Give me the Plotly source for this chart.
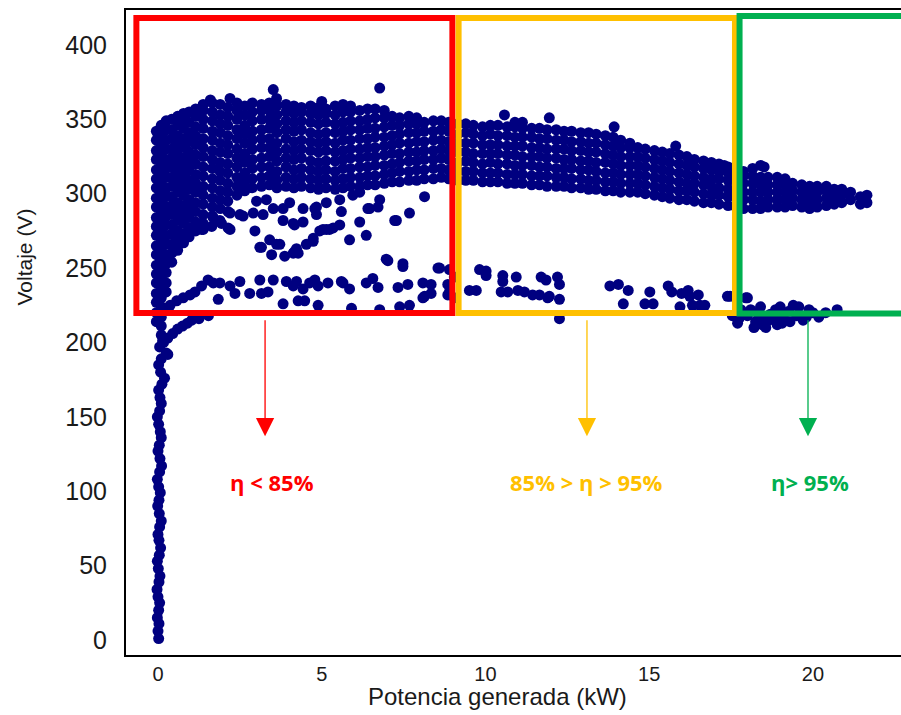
import plotly.graph_objects as go

# ---------------- data ----------------
# vertical spine near 0 kW (x kW, y V)
spine = [(0.02,1),(0.0,6),(0.03,11),(-0.02,15),(0.02,20),(0.05,25),(0.0,29),(-0.03,34),(0.03,39),
         (0.06,43),(0.01,48),(-0.02,53),(0.04,57),(0.08,62),(0.03,67),(0.0,71),(0.05,76),(0.1,80),
         (0.04,85),(-0.01,90),(0.03,94),(0.07,99),(0.02,103),(-0.02,108),(0.05,113),(0.11,117),
         (0.06,122),(0.0,127),(0.04,131),(0.1,136),(0.07,140),(0.02,145),(-0.02,150),(0.05,154),
         (0.1,159),(0.06,163),(0.02,168),(0.12,172),(0.2,176),(0.08,180),(0.02,185),(0.1,189),
         (0.25,193),(0.05,197),(0.14,201)]

# upper dense band, low power part: (x, [voltages])
band_low = [
    (-0.05, [214,220,227,233,240,246,252,259,265,272,278,284,291,297,304,310,316,323,329,336,342]),
    (0.1, [205,211,217,224,230,237,243,249,256,262,269,275,281,288,294,301,307,313,320,326,333,339,346]),
    (0.25, [234,240,247,253,259,266,272,279,285,291,298,304,311,317,323,330,336,343,349]),
    (0.42, [254,260,266,273,279,286,292,298,305,311,318,324,330,337,343,350]),
    (0.6, [262,269,275,282,288,294,301,307,314,320,326,333,339,346,352]),
    (0.78, [267,273,280,286,292,299,305,312,318,324,331,337,344,350,354]),
    (0.95, [271,277,284,290,296,303,309,316,322,328,335,341,348,355]),
    (1.15, [275,281,288,294,301,307,313,320,326,333,339,345,352,357]),
    (1.38, [280,286,293,299,305,312,318,325,331,337,344,350,356,360]),
    (1.66, [285,291,297,304,310,317,323,329,336,342,349,355,361]),
    (1.9, [290,296,302,309,315,321,328,334,341,347,353,360]),
    (2.13, [295,301,307,314,320,327,333,339,346,352,358]),
    (2.41, [299,305,311,318,324,330,337,343,350,356,361]),
    (2.65, [302,308,314,321,327,334,340,346,353,359]),
    (2.88, [304,310,317,323,330,336,342,349,355,361]),
    (3.16, [305,311,318,324,331,337,343,350,356,360]),
    (3.4, [306,312,318,325,331,337,344,350,356,361]),
    (3.63, [304,309,315,322,328,334,341,347,353,359]),
    (3.91, [305,311,318,324,330,337,343,349,355,360]),
    (4.15, [304,310,316,323,329,335,342,348,354,359]),
    (4.38, [305,311,317,324,330,336,343,349,355,358]),
]

band_mid = [
    (4.66, [304,310,316,322,329,335,341,348,354,359]),
    (4.9, [303,309,315,321,328,334,340,347,353,358]),
    (5.13, [304,310,316,322,329,335,341,348,354,357]),
    (5.41, [303,309,315,322,328,334,341,347,353,359]),
    (5.65, [304,310,317,323,329,336,342,348,355,360]),
    (5.88, [305,311,317,324,330,336,343,349,355,359]),
    (6.16, [305,311,318,324,330,337,343,349,356]),
    (6.4, [306,312,318,325,331,337,344,350,357]),
    (6.63, [306,312,319,325,331,338,344,351,357]),
    (6.91, [307,313,319,326,332,338,345,351,356]),
    (7.15, [308,314,320,327,333,339,346,352]),
    (7.38, [308,315,321,327,334,340,346,351]),
    (7.66, [309,315,322,328,334,341,347,352]),
    (7.9, [309,316,322,328,335,341,347,351]),
    (8.13, [310,316,323,329,335,342,348]),
    (8.41, [310,317,323,329,336,342,349]),
    (8.65, [311,317,324,330,336,343,349]),
    (8.88, [310,316,323,329,335,342,348]),
    (9.16, [309,315,321,328,334,340,347]),
    (9.4, [309,315,322,328,334,341,347]),
    (9.63, [309,315,321,327,334,340,346]),
    (9.91, [308,314,320,327,333,339,345]),
    (10.15, [308,314,321,327,333,340,346]),
    (10.38, [308,314,320,327,333,339,346]),
    (10.66, [307,313,320,326,332,339,345]),
    (10.9, [307,313,319,326,332,338,345,348]),
    (11.13, [307,313,319,325,332,338,344,348]),
    (11.41, [306,312,319,325,331,338,344]),
    (11.65, [306,312,318,325,331,337,344]),
    (11.88, [305,312,318,324,330,337,343]),
    (12.16, [305,311,317,324,330,336,343]),
    (12.4, [305,311,317,323,330,336,342]),
    (12.63, [304,310,317,323,329,335,342]),
    (12.91, [304,310,316,322,329,335,341]),
    (13.15, [303,309,316,322,328,334,341]),
    (13.38, [303,309,315,321,328,334,340]),
    (13.66, [302,308,314,321,327,333,339]),
    (13.9, [302,308,314,320,326,332,338]),
]

band_high = [
    (14.13, [301,307,313,319,325,331,336]),
    (14.41, [301,307,313,319,325,331,334]),
    (14.65, [301,307,313,319,325,331]),
    (14.88, [300,306,312,318,324,330]),
    (15.16, [299,305,311,317,323,329]),
    (15.4, [298,304,310,316,322,328]),
    (15.63, [297,303,309,315,321,327]),
    (15.91, [296,302,308,314,320,326]),
    (16.15, [296,302,307,313,319,325]),
    (16.38, [295,301,307,312,318,323]),
    (16.66, [294,300,306,311,317,322]),
    (16.9, [294,299,305,310,316,321]),
    (17.13, [293,299,304,310,315,320]),
    (17.41, [292,298,303,309,314,318]),
    (17.65, [291,297,302,308,313,317]),
    (17.88, [290,296,301,307,312,315]),
    (18.16, [290,296,301,307,312,317]),
    (18.4, [290,295,301,306,311,319]),
    (18.63, [291,296,301,306,311]),
    (18.91, [291,296,301,306,311]),
    (19.15, [291,296,301,306,310]),
    (19.38, [292,297,302,307]),
    (19.66, [291,296,301,306]),
    (19.9, [290,295,300,305]),
    (20.13, [291,296,301,305]),
    (20.41, [292,297,302,305]),
    (20.65, [293,298,303]),
    (20.88, [294,299,303]),
    (21.15, [296,301]),
    (21.45, [293,298]),
    (21.65, [294,299]),
]

# isolated points above the band
top_points = [(3.52,370),(3.62,364),(6.77,371),(2.2,364),(5.0,362),(1.6,363),(10.58,353),
              (11.95,351),(13.93,345),(15.81,332),(17.29,319),(18.51,318)]

# points scattered between the upper band and the ~235 V band
middle_points = [(3.01,295),(3.31,296),(2.2,287),(2.6,285),(2.91,287),(3.21,286),(3.52,290),(3.82,290),
                 (4.02,294),(4.43,290),(4.84,291),(5.14,294),(5.55,296),(5.6,288),(5.95,299),(6.16,301),
                 (6.41,290),(6.72,291),(6.77,296),(7.28,282),(7.68,287),(8.14,298),(1.69,284),(1.89,282),
                 (2.2,276),(1.38,276),(2.96,275),(3.82,282),(4.13,280),(4.43,281),(4.94,275),(5.14,276),
                 (5.35,277),(5.55,279),(5.85,269),(6.16,281),(6.36,272),(3.11,264),(3.41,269),(3.47,259),
                 (3.72,266),(3.87,258),(4.13,260),(4.28,260),(4.53,266),(4.74,268),(1.33,276),(1.64,278),
                 (2.14,288),(1.94,280),(2.14,277),(2.5,286),(3.62,266),(3.16,264),(4.23,263),(7.23,282),
                 (6.46,290),(5.04,276),(5.24,276),(4.74,270),(4.17,261),(4.17,279),(4.79,290),(4.84,286),
                 (8.6,250),(8.9,249),(6.97,256),(7.02,255),(7.48,253),(7.48,251),(8.55,250)]

# lower band (~210-250 V)
lower_points = [(0.21,223),(0.37,225),(0.57,228),(0.77,230),(0.98,232),(1.13,234),(1.33,238),(1.53,242),
                (1.69,240),(1.89,240),(1.84,229),(2.2,238),(2.35,233),(2.5,241),(2.8,233),(3.11,242),
                (3.16,233),(3.36,234),(3.52,242),(3.82,226),(3.92,241),(4.13,238),(4.23,241),(4.28,228),
                (4.43,236),(4.48,228),(4.63,240),(4.79,242),(4.89,225),(4.89,238),(5.19,240),(5.6,241),
                (5.65,240),(5.85,236),(5.91,223),(6.36,240),(6.56,243),(6.72,237),(6.77,222),(7.33,237),
                (7.38,224),(7.63,239),(7.68,225),(8.09,240),(8.09,230),(8.14,231),(8.34,233),(8.34,239),
                (8.85,239),(8.85,232),(8.9,234),(9.05,244),(9.05,230),
                (0.17,200),(0.3,203),(0.45,206),(0.6,209),(0.75,211),(0.9,213),(1.03,215),(1.25,216),
                (1.54,218),(0.3,192),
                (9.51,235),(9.72,235),(9.82,249),(10.02,248),(10.02,245),(10.53,245),(10.53,241),
                (10.48,234),(10.68,234),(10.94,244),(10.99,235),(11.19,234),(11.44,232),(11.65,232),
                (11.7,244),(11.85,242),(11.9,230),(11.95,231),(12.2,244),(12.26,239),(12.26,229),(12.26,216),
                (13.8,238),(14.06,239),(14.36,235),(14.21,226),(14.87,226),(15.02,234),(15.12,226),
                (15.58,238),(15.69,234),(15.99,233),(16.19,235),(16.24,231),(15.94,224),(16.5,232),
                (16.55,225),(16.7,225),(16.32,225),(17.39,231),(17.47,231),
                (17.54,218),(17.74,216),(17.95,230),(18.1,222),(18.25,214),(18.45,212),(18.66,215),
                (18.86,222),(19.06,213),(19.27,221),(19.57,224),(19.88,222),(20.18,217),(20.39,220),
                (20.74,222),(18.91,212),(18.56,210),(17.8,222),(18.0,218),(18.3,220),(18.5,216),
                (18.7,219),(18.9,216),(19.1,218),(19.3,214),(19.5,218),(19.7,215),(18.4,224),(19.0,224),
                (19.4,225),(19.8,217),(20.0,220),(17.7,213),(18.2,210),(18.0,230)]

x_ticks = [0, 5, 10, 15, 20]
y_ticks = [0, 50, 100, 150, 200, 250, 300, 350, 400]
x_title = "Potencia generada (kW)"
y_title = "Voltaje (V)"

zone_labels = ["η < 85%", "85% > η > 95%", "η> 95%"]
zone_colors = ["#FF0000", "#FFC000", "#00B050"]

# ---------------- assemble ----------------
xs, ys = [], []
for pts in (spine, top_points, middle_points, lower_points):
    for px, py in pts:
        xs.append(px); ys.append(py)
for cols in (band_low, band_mid, band_high):
    for cx, vals in cols:
        for v in vals:
            xs.append(cx); ys.append(v)

fig = go.Figure()
fig.add_trace(go.Scatter(x=xs, y=ys, mode="markers",
                         marker=dict(color="#000080", size=11, line=dict(width=0)),
                         hoverinfo="skip", showlegend=False))

# zone rectangles
zones = [(-0.66, 8.99, 219.8, 418.2), (9.18, 17.62, 219.8, 418.2), (17.76, 24.0, 219.4, 419.5)]
for (x0, x1, y0, y1), col in zip(zones, zone_colors):
    fig.add_shape(type="rect", xref="x", yref="y", x0=x0, x1=x1, y0=y0, y1=y1,
                  line=dict(color=col, width=6), fillcolor="rgba(0,0,0,0)", layer="above")

# arrows and labels
arrow_x = [3.27, 13.1, 19.85]
label_x = [3.48, 13.1, 19.9]
for ax_, lx, txt, col in zip(arrow_x, label_x, zone_labels, zone_colors):
    fig.add_annotation(x=ax_, y=137, ax=ax_, ay=216, xref="x", yref="y", axref="x", ayref="y",
                       text="", showarrow=True, arrowhead=2, arrowsize=2.8, arrowwidth=1.3,
                       arrowcolor=col)
    fig.add_annotation(x=lx, y=106, xref="x", yref="y", text="<b>" + txt + "</b>",
                       showarrow=False, font=dict(family="Open Sans", size=22, color=col))

axis_font = "Arial, Liberation Sans, sans-serif"

# axis titles (placed as in the reference, off-centre)
fig.add_annotation(x=10.38, y=-0.065, xref="x", yref="paper", text=x_title, showarrow=False,
                   xanchor="center", yanchor="middle",
                   font=dict(family=axis_font, size=24, color="#1a1a1a"))
fig.add_annotation(x=-0.131, y=0.617, xref="paper", yref="paper", text=y_title,
                   showarrow=False, textangle=-90, xanchor="center", yanchor="middle",
                   font=dict(family=axis_font, size=21, color="#1a1a1a"))

fig.update_layout(
    template="none",
    width=901, height=715,
    margin=dict(l=126, r=0, t=10, b=60, pad=0),
    paper_bgcolor="white", plot_bgcolor="white",
    showlegend=False,
    xaxis=dict(range=[-0.977, 22.69], tickvals=x_ticks, ticktext=[str(v) for v in x_ticks],
               showline=True, linecolor="black", linewidth=2, mirror=True,
               showgrid=False, zeroline=False, ticks="", automargin=False,
               ticklabelstandoff=0,
               tickfont=dict(family=axis_font, size=20, color="#1a1a1a")),
    yaxis=dict(range=[-10.08, 423.5], tickvals=y_ticks, ticktext=[str(v) for v in y_ticks],
               showline=True, linecolor="black", linewidth=2, mirror=False,
               showgrid=False, zeroline=False, ticks="", automargin=False,
               ticklabelstandoff=12,
               tickfont=dict(family=axis_font, size=25, color="#1a1a1a")),
)

fig.write_html("out.html", config={"displayModeBar": False},
               post_script="document.body.style.margin='0';")
